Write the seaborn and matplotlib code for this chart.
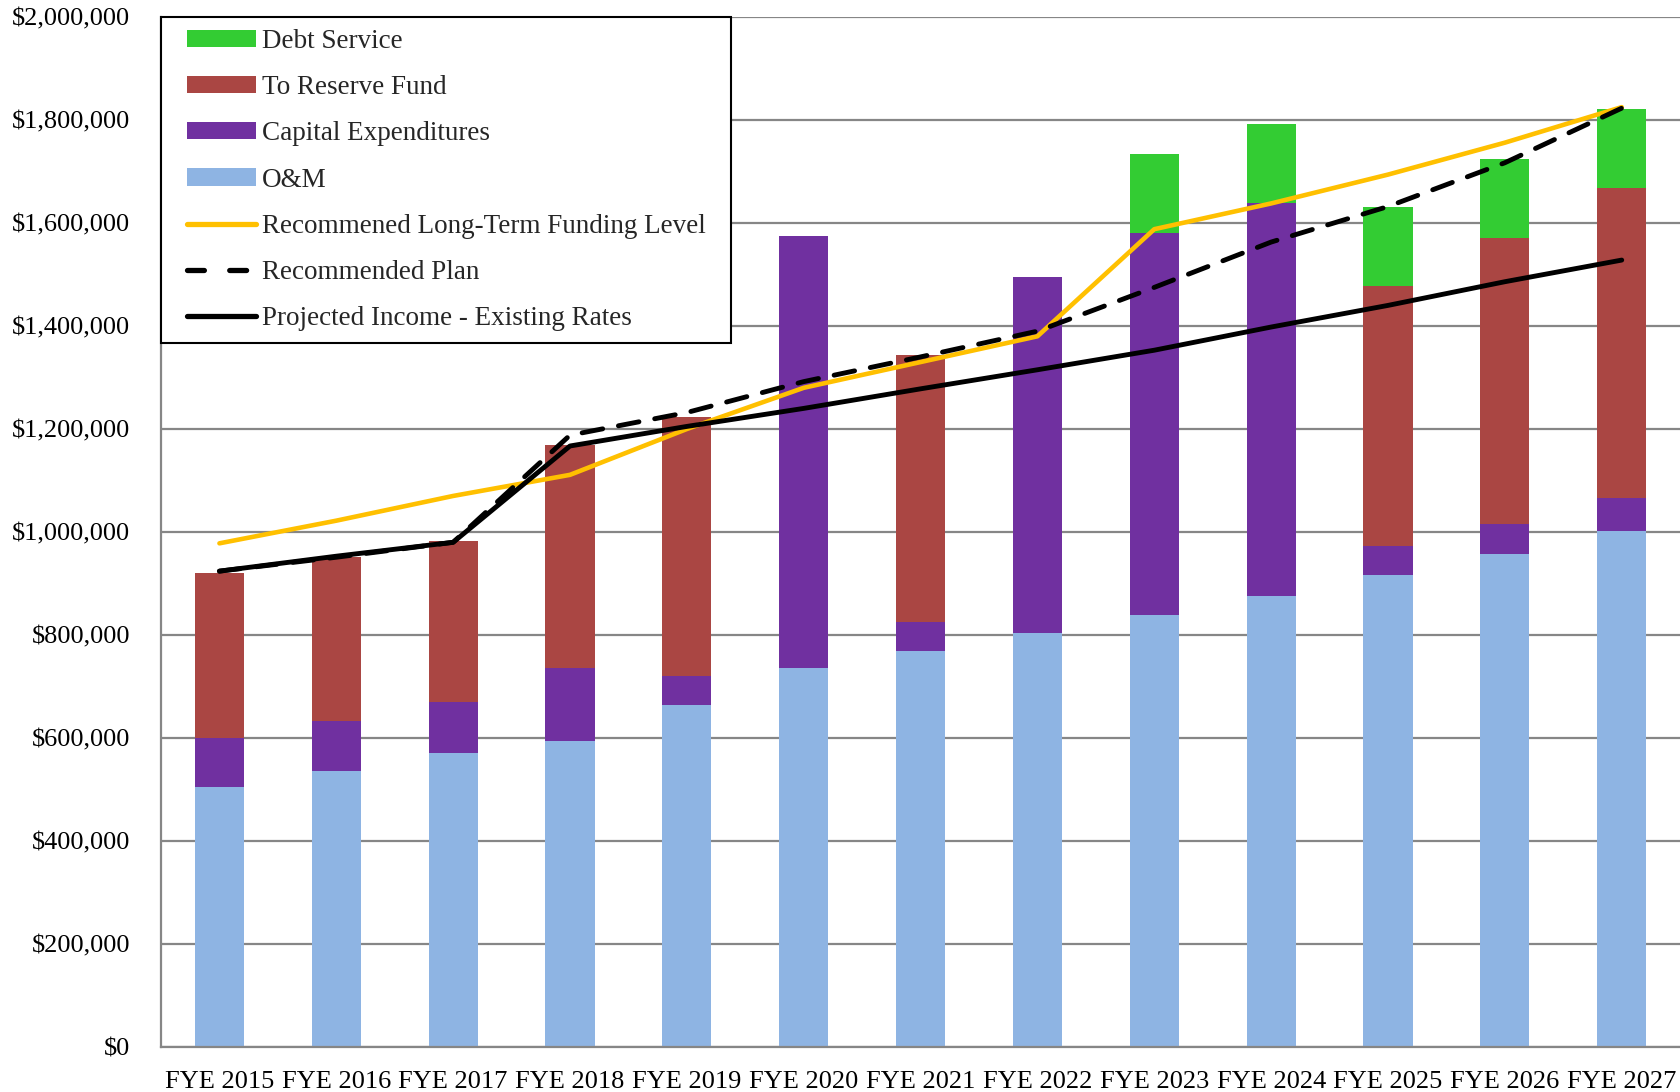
import numpy as np
import pandas as pd
import matplotlib
matplotlib.use("Agg")
import matplotlib.pyplot as plt
from matplotlib.ticker import FuncFormatter, FixedLocator
from matplotlib.patches import Patch
from matplotlib.lines import Line2D
from matplotlib.legend_handler import HandlerPatch, HandlerLine2D
import seaborn as sns

years = ["FYE 2015", "FYE 2016", "FYE 2017", "FYE 2018", "FYE 2019", "FYE 2020", "FYE 2021",
         "FYE 2022", "FYE 2023", "FYE 2024", "FYE 2025", "FYE 2026", "FYE 2027"]
om = [505000, 535000, 570000, 595000, 664000, 735000, 768000, 803000, 839000, 876000, 916000, 957000, 1001000]
capex = [95000, 98000, 100000, 140000, 56000, 840000, 58000, 693000, 741000, 762000, 56000, 59000, 65000]
reserve = [320000, 319000, 312000, 433000, 504000, 0, 518000, 0, 0, 0, 506000, 555000, 601000]
debt = [0, 0, 0, 0, 0, 0, 0, 0, 154000, 154000, 154000, 154000, 154000]
funding_level = [978000, 1022000, 1070000, 1111000, 1200000, 1280000, 1330000, 1380000,
                 1588000, 1638000, 1694000, 1756000, 1825000]
rec_plan = [924000, 951000, 980000, 1188000, 1232000, 1292000, 1340000, 1390000,
            1475000, 1563000, 1632000, 1717000, 1823000]
proj_income = [924000, 953000, 980000, 1167000, 1205000, 1240000, 1278000, 1315000,
               1353000, 1398000, 1440000, 1486000, 1528000]

c_debt = "#33CC33"
c_res = "#AA4643"
c_cap = "#7030A0"
c_om = "#8EB4E3"
c_yel = "#FFC000"

sns.set_style("white")
plt.rcParams["font.family"] = ["Liberation Serif", "DejaVu Serif"]
FS = 19
LFS = 19.5

df = pd.DataFrame({"year": years, "om": om, "capex": capex, "reserve": reserve, "debt": debt})
df["c1"] = df["om"]
df["c2"] = df["c1"] + df["capex"]
df["c3"] = df["c2"] + df["reserve"]
df["c4"] = df["c3"] + df["debt"]

fig = plt.figure(figsize=(16.81, 10.92), dpi=100)
ax = fig.add_axes([161 / 1681, 45 / 1092, 1 - 161 / 1681 - 0.0005, (1047 - 17) / 1092])

W = 0.42
for col, c in [("c4", c_debt), ("c3", c_res), ("c2", c_cap), ("c1", c_om)]:
    sns.barplot(data=df, x="year", y=col, color=c, saturation=1, width=W, ax=ax,
                order=years, linewidth=0, errorbar=None)

xpos = np.arange(len(years))
sns.lineplot(x=xpos, y=funding_level, color=c_yel, lw=3.3, ax=ax, sort=False,
             solid_capstyle="round", solid_joinstyle="round")
sns.lineplot(x=xpos, y=proj_income, color="black", lw=3.5, ax=ax, sort=False,
             solid_capstyle="round", solid_joinstyle="round")
sns.lineplot(x=xpos, y=rec_plan, color="black", lw=3.5, ax=ax, sort=False,
             dashes=False, linestyle=(0, (4.3, 3.3)), dash_capstyle="round")

ax.set_xlim(-0.5, len(years) - 0.5)
ax.set_ylim(0, 2000000)
ax.yaxis.set_major_locator(FixedLocator(np.arange(0, 2000001, 200000)))
ax.yaxis.set_major_formatter(FuncFormatter(lambda v, p: f"${v:,.0f}"))
ax.yaxis.grid(True, color="#868686", lw=1.6)
ax.xaxis.grid(False)
ax.set_axisbelow(True)
ax.set_xlabel("")
ax.set_ylabel("")

ax.set_xticks(xpos)
ax.set_xticklabels(years)
ax.set_xticks(np.arange(-0.5, len(years), 1.0), minor=True)
ax.tick_params(axis="x", which="major", length=0, pad=17, labelsize=FS, colors="black")
ax.tick_params(axis="x", which="minor", length=7, width=1.5, color="#868686", direction="out")
ax.tick_params(axis="y", which="major", length=6, width=1.5, color="#868686", direction="out",
               pad=16, labelsize=FS, labelcolor="black")

for s in ["top", "right"]:
    ax.spines[s].set_visible(False)
for s in ["left", "bottom"]:
    ax.spines[s].set_visible(True)
    ax.spines[s].set_color("#868686")
    ax.spines[s].set_linewidth(1.6)

handles = [
    Patch(facecolor=c_debt, edgecolor="none"),
    Patch(facecolor=c_res, edgecolor="none"),
    Patch(facecolor=c_cap, edgecolor="none"),
    Patch(facecolor=c_om, edgecolor="none"),
    Line2D([], [], color=c_yel, lw=3.8, solid_capstyle="round"),
    Line2D([], [], color="black", lw=3.8, linestyle=(0, (3.2, 4.8)), dash_capstyle="round"),
    Line2D([], [], color="black", lw=3.8, solid_capstyle="round"),
]
labels = ["Debt Service", "To Reserve Fund", "Capital Expenditures", "O&M",
          "Recommened Long-Term Funding Level", "Recommended Plan", "Projected Income - Existing Rates"]
XP = 0.5
leg = ax.legend(handles, labels, loc="upper left", bbox_to_anchor=(0.0, 1.0, 0.375, 0.0),
                mode="expand", borderaxespad=0, fontsize=LFS, frameon=True, fancybox=False,
                edgecolor="black", handlelength=2.55 + XP, handleheight=0.6, handletextpad=0.22,
                labelspacing=0.78, borderpad=0.45,
                handler_map={Patch: HandlerPatch(xpad=XP), Line2D: HandlerLine2D(xpad=XP)})
leg.get_frame().set_linewidth(1.5)
leg.get_frame().set_alpha(1)
leg.set_zorder(10)

fig.savefig("out.png", dpi=100, facecolor="white")
